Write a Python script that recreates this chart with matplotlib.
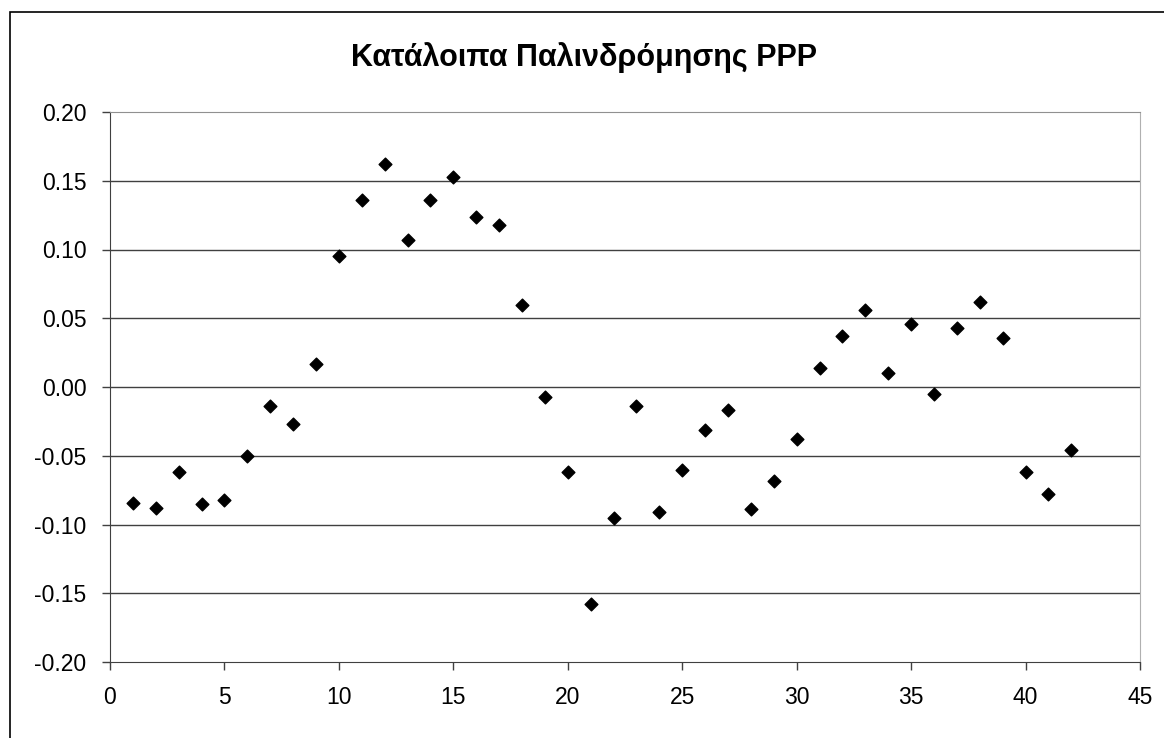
import matplotlib.pyplot as plt
from matplotlib.patches import Rectangle

# Residuals of the PPP regression, one per observation
obs = list(range(1, 43))
residuals = [-0.084, -0.088, -0.062, -0.085, -0.082, -0.050, -0.014, -0.027, 0.017, 0.095,
             0.136, 0.162, 0.107, 0.136, 0.153, 0.124, 0.118, 0.060, -0.007, -0.062,
             -0.158, -0.095, -0.014, -0.091, -0.060, -0.031, -0.017, -0.089, -0.068, -0.038,
             0.014, 0.037, 0.056, 0.010, 0.046, -0.005, 0.043, 0.062, 0.036, -0.062,
             -0.078, -0.046]
title = "Κατάλοιπα Παλινδρόμησης PPP"
x_ticks = [0, 5, 10, 15, 20, 25, 30, 35, 40, 45]
y_ticks = [-0.20, -0.15, -0.10, -0.05, 0.00, 0.05, 0.10, 0.15, 0.20]

plt.rcParams['font.family'] = ['Liberation Sans', 'DejaVu Sans']

fig = plt.figure(figsize=(11.64, 7.38), dpi=100)
ax = fig.add_axes([110 / 1164, 1 - 662 / 738, 1030 / 1164, 550 / 738])

# outer chart frame
fig.patches.append(Rectangle((10 / 1164, -0.01), 1.0, 1 - 12 / 738 + 0.01,
                             transform=fig.transFigure, fill=False,
                             edgecolor='black', linewidth=1.2))

ax.scatter(obs, residuals, marker='D', s=42, color='black', zorder=3)

ax.set_xlim(0, 45)
ax.set_ylim(-0.20, 0.20)
ax.set_xticks(x_ticks)
ax.set_yticks(y_ticks)
ax.set_yticklabels([f"{v:.2f}" for v in y_ticks])
ax.tick_params(labelsize=16.5, length=6, width=1, color='#404040', pad=11)

for v in y_ticks[1:-1]:
    ax.axhline(v, color='#404040', linewidth=1, zorder=1)

ax.spines['left'].set_color('#404040')
ax.spines['bottom'].set_color('#404040')
ax.spines['top'].set_color('#909090')
ax.spines['right'].set_color('#b0b0b0')

fig.text(0.502, 1 - 66 / 738, title, ha='center', va='baseline',
         fontsize=22, fontweight='bold')

fig.savefig('out.png', dpi=100)
